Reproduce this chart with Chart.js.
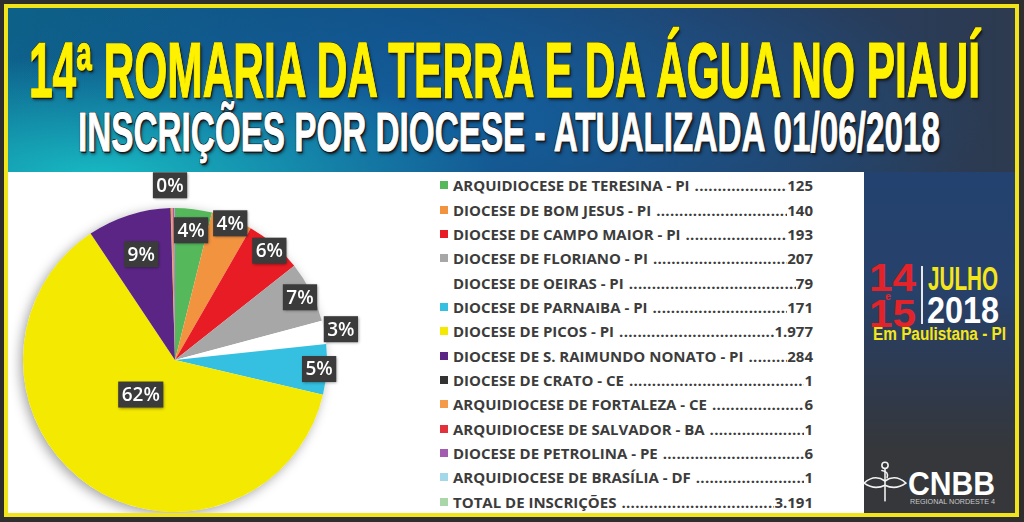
<!DOCTYPE html>
<html>
<head>
<meta charset="utf-8">
<script src="https://cdn.jsdelivr.net/npm/chart.js@4/dist/chart.umd.min.js"></script>
<style>
  html, body { margin:0; padding:0; }
  body { width:1024px; height:522px; background:#2e2e2e; position:relative; overflow:hidden; font-family:"Liberation Sans", Arial, sans-serif; }
  #frame {
    position:absolute; left:4px; top:4px; width:1015px; height:513px;
    box-sizing:border-box; border:4px solid #f2e41a;
    background:
      radial-gradient(ellipse 400px 120px at 90px 168px, rgba(24,190,198,0.95) 0%, rgba(24,190,198,0) 100%),
      radial-gradient(ellipse 520px 170px at 460px 110px, rgba(18,100,165,0.8) 0%, rgba(18,100,165,0) 100%),
      linear-gradient(90deg, #0d6189 0%, #134b80 40%, #243f67 70%, #2d3a4f 100%);
  }
  #white { position:absolute; left:8px; top:172px; width:856px; height:341px; background:#fff; }
  #side {
    position:absolute; left:864px; top:172px; width:151px; height:341px;
    background:linear-gradient(180deg, #23426f 0%, #27416a 35%, #2f3a4d 62%, #35373a 82%, #35373a 100%);
  }
  .fit { position:absolute; white-space:nowrap; line-height:1; transform-origin:0 0; }
  #title { font-family:"Liberation Sans Narrow","Liberation Sans",sans-serif; font-weight:bold; font-size:78px; color:#fff200;
    -webkit-text-stroke:1.5px #fff200;
    text-shadow: 2px 2px 0 #1b1b1b, -1px -1px 0 #1b1b1b, 1px -1px 0 #1b1b1b, -1px 1px 0 #1b1b1b, 3px 3px 4px rgba(0,0,0,.6); }
  #subtitle { font-family:"Liberation Sans Narrow","Liberation Sans",sans-serif; font-weight:bold; font-size:56px; color:#fff;
    -webkit-text-stroke:1px #fff;
    text-shadow: 2px 2px 0 #1b1b1b, -1px -1px 0 #1b1b1b, 1px -1px 0 #1b1b1b, -1px 1px 0 #1b1b1b, 3px 3px 4px rgba(0,0,0,.6); }
  #chartBox { position:absolute; left:8px; top:172px; width:420px; height:341px; }
  #legend { position:absolute; left:440px; top:173px; width:373px; font-family:"Open Sans",sans-serif; font-weight:700; font-size:15px; color:#3c3c3c; }
  .row { display:flex; align-items:center; height:24.35px; }
  .sw { width:8px; height:8px; margin-right:5px; flex:none; }
  .nm { white-space:nowrap; flex:none; }
  .dots { flex:1; overflow:hidden; white-space:nowrap; margin-left:5px; letter-spacing:0.3px; }
  .val { flex:none; white-space:nowrap; }
  .cond { font-family:"Liberation Sans Narrow","Liberation Sans",sans-serif; font-weight:bold; }
  #sep { position:absolute; left:921px; top:266px; width:2px; height:58px; background:#e8e8e8; }
</style>
</head>
<body>
<div id="frame"></div>
<div id="white"></div>
<div id="side"></div>

<div id="title" class="fit" data-x="29" data-y="31" data-w="951">14ª ROMARIA DA TERRA E DA ÁGUA NO PIAUÍ</div>
<div id="subtitle" class="fit" data-x="78" data-y="104" data-w="862">INSCRIÇÕES POR DIOCESE - ATUALIZADA 01/06/2018</div>

<div id="chartBox"><canvas id="pie"></canvas></div>
<div id="legend"></div>

<div class="fit cond" data-x="869" data-y="258" data-w="47" style="font-size:39px;color:#e3232a;">14</div>
<div class="fit cond" data-x="885" data-y="292" data-w="6" style="font-size:10px;color:#e3232a;">e</div>
<div class="fit cond" data-x="869" data-y="294" data-w="47" style="font-size:39px;color:#e3232a;">15</div>
<div id="sep"></div>
<div class="fit cond" data-x="928" data-y="261" data-w="70" style="font-size:34px;color:#f5e61c;">JULHO</div>
<div class="fit cond" data-x="927" data-y="292" data-w="72" style="font-size:37px;color:#ffffff;">2018</div>
<div class="fit cond" data-x="873" data-y="325" data-w="133" style="font-size:18px;color:#f5e61c;">Em Paulistana - PI</div>

<svg style="position:absolute;left:862px;top:458px;" width="46" height="46" viewBox="0 0 44 44">
  <g fill="none" stroke="#f2f2f2" stroke-width="1.5" stroke-linecap="round">
    <circle cx="22" cy="7" r="3"/>
    <path d="M22 10 L22 41"/>
    <path d="M2 24 Q12 15 22 22 Q32 15 42 24 Q32 31 22 26 Q12 31 2 24 Z"/>
    <path d="M19 12 Q26 13 24 19"/>
  </g>
</svg>
<div class="fit" data-x="908" data-y="466" data-w="87" style="font-family:'Liberation Sans',sans-serif;font-weight:bold;font-size:34px;color:#fff;">CNBB</div>
<div class="fit" data-x="910" data-y="498" data-w="85" style="font-family:'Liberation Sans',sans-serif;font-size:8px;color:#c9c9c9;">REGIONAL NORDESTE 4</div>

<script>
// dados da imagem
const dioceses = [
  'ARQUIDIOCESE DE TERESINA - PI',
  'DIOCESE DE BOM JESUS - PI',
  'DIOCESE DE CAMPO MAIOR - PI',
  'DIOCESE DE FLORIANO - PI',
  'DIOCESE DE OEIRAS - PI',
  'DIOCESE DE PARNAIBA - PI',
  'DIOCESE DE PICOS - PI',
  'DIOCESE DE S. RAIMUNDO NONATO - PI',
  'DIOCESE DE CRATO - CE',
  'ARQUIDIOCESE DE FORTALEZA - CE',
  'ARQUIDIOCESE DE SALVADOR - BA',
  'DIOCESE DE PETROLINA - PE',
  'ARQUIDIOCESE DE BRASÍLIA - DF'
];
const inscricoes = [125, 140, 193, 207, 79, 171, 1977, 284, 1, 6, 1, 6, 1];
const cores = ['#55b95c', '#f29340', '#e81c24', '#a7a7a7', '#ffffff', '#35bfe0', '#f4e900',
               '#5b2586', '#333333', '#f39a4b', '#e3313b', '#a25cb0', '#a3d8ea'];
// rotulos do grafico como aparecem na imagem
const rotulos = ['4%', '4%', '6%', '7%', '3%', '5%', '62%', '9%', '0%', '', '', '', ''];
const totalLabel = 'TOTAL DE INSCRIÇÕES';
const totalCor = '#a9d7a9';

function fmt(n){
  return String(n).replace(/\B(?=(\d{3})+(?!\d))/g, '.');
}

// ajusta largura dos textos
document.querySelectorAll('.fit').forEach(el => {
  el.style.left = el.dataset.x + 'px';
  el.style.top = el.dataset.y + 'px';
  const w = el.getBoundingClientRect().width;
  el.style.transform = 'scaleX(' + (Number(el.dataset.w) / w) + ')';
});

// legenda
const legend = document.getElementById('legend');
const total = inscricoes.reduce((a, b) => a + b, 0);
dioceses.concat([totalLabel]).forEach((nome, i) => {
  const row = document.createElement('div');
  row.className = 'row';
  const cor = i < cores.length ? cores[i] : totalCor;
  const v = i < inscricoes.length ? inscricoes[i] : total;
  row.innerHTML = '<span class="sw" style="background:' + cor + '"></span>' +
    '<span class="nm">' + nome + '</span>' +
    '<span class="dots">' + '.'.repeat(120) + '</span>' +
    '<span class="val">' + fmt(v) + '</span>';
  legend.appendChild(row);
});

// sombra do circulo
const sombra = {
  id: 'sombra',
  beforeDatasetsDraw(chart){
    const a = chart.getDatasetMeta(0).data[0];
    const ctx = chart.ctx;
    ctx.save();
    ctx.shadowColor = 'rgba(0,0,0,0.35)';
    ctx.shadowBlur = 12;
    ctx.shadowOffsetX = -3;
    ctx.shadowOffsetY = 3;
    ctx.fillStyle = '#fff';
    ctx.beginPath();
    ctx.arc(a.x, a.y, a.outerRadius, 0, Math.PI * 2);
    ctx.fill();
    ctx.restore();
  }
};

// caixas de porcentagem
const caixas = {
  id: 'caixas',
  afterDatasetsDraw(chart, args, opts){
    const ctx = chart.ctx;
    chart.getDatasetMeta(0).data.forEach((arc, i) => {
      const txt = rotulos[i];
      if (!txt) return;
      const mid = (arc.startAngle + arc.endAngle) / 2 + (opts.turn[i] || 0) * Math.PI / 180;
      const r = arc.outerRadius * opts.dist[i];
      const x = arc.x + Math.cos(mid) * r;
      const y = arc.y + Math.sin(mid) * r;
      ctx.save();
      ctx.font = '600 19px "Open Sans", sans-serif';
      const w = ctx.measureText(txt).width + 7;
      const h = 26;
      ctx.shadowColor = 'rgba(0,0,0,0.45)';
      ctx.shadowBlur = 3;
      ctx.shadowOffsetX = 1;
      ctx.shadowOffsetY = 1;
      ctx.fillStyle = '#3b3b3b';
      ctx.fillRect(x - w / 2, y - h / 2, w, h);
      ctx.shadowColor = 'transparent';
      ctx.fillStyle = '#ffffff';
      ctx.textAlign = 'center';
      ctx.textBaseline = 'middle';
      ctx.fillText(txt, x, y + 1);
      ctx.restore();
    });
  }
};

new Chart(document.getElementById('pie'), {
  type: 'pie',
  data: {
    labels: dioceses,
    datasets: [{
      data: inscricoes,
      backgroundColor: cores,
      borderWidth: 0
    }]
  },
  options: {
    responsive: true,
    maintainAspectRatio: false,
    animation: false,
    layout: { padding: { left: 15, top: 36, right: 101, bottom: 1 } },
    plugins: {
      legend: { display: false },
      tooltip: { enabled: false },
      caixas: {
        dist: [0.86, 0.97, 0.95, 0.92, 1.11, 0.95, 0.32, 0.73, 1.15, 0, 0, 0, 0],
        turn: [0, 0, 0, 0, 0, 0, 10, 0, 0, 0, 0, 0, 0]
      }
    }
  },
  plugins: [sombra, caixas]
});
</script>
</body>
</html>
